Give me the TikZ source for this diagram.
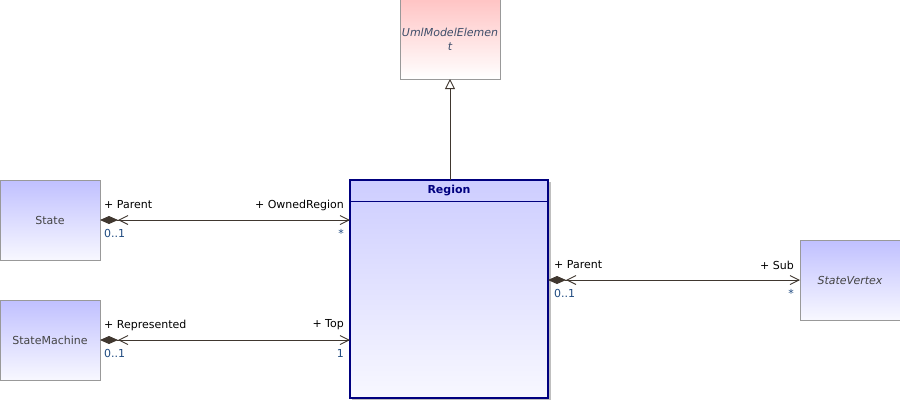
\documentclass[tikz,border=0pt]{standalone}
\usepackage{fontspec}
\setmainfont{DejaVu Sans}
\usetikzlibrary{arrows.meta}
\definecolor{linec}{HTML}{40372F}
\definecolor{bordg}{HTML}{999999}
\definecolor{clsTop}{HTML}{C0C0FF}
\definecolor{clsBot}{HTML}{F8F8FF}
\definecolor{pinkTop}{HTML}{FFC4C4}
\definecolor{regTop}{HTML}{CDCDFF}
\definecolor{navy}{HTML}{00007F}
\definecolor{multc}{HTML}{1F4A80}
\definecolor{namec}{HTML}{444444}
\definecolor{abstc}{HTML}{3E4E6A}
\tikzset{
  x=1pt, y=-1pt,
  cls/.style={draw=bordg, line width=0.9pt, top color=clsTop, bottom color=clsBot,
    minimum width=100pt, minimum height=80pt, inner sep=0pt, outer sep=0pt,
    font=\fontsize{11}{13.5}\selectfont, text=namec},
  role/.style={font=\fontsize{11}{13}\selectfont, text=black, inner sep=0pt},
  mult/.style={font=\fontsize{11}{13}\selectfont, text=multc, inner sep=0pt},
  assoc/.style={draw=linec, line width=0.9pt,
    {Diamond[length=18pt,width=8pt,fill=linec]Straight Barb[length=9pt,width=9pt,line width=0.9pt]}-{Straight Barb[length=9pt,width=9pt,line width=0.9pt]}},
}
\begin{document}
\begin{tikzpicture}
\useasboundingbox (0,0) rectangle (900,400);
% classes
\node[cls, top color=pinkTop, bottom color=white, text=abstc, align=center,
  font=\fontsize{11}{14}\selectfont\itshape] (uml) at (450,39) {UmlModelElemen\\t};
\node[cls] (state) at (50,220) {State};
\node[cls] (sm) at (50,340) {StateMachine};
\node[cls, font=\fontsize{11}{13.5}\selectfont\itshape] (sv) at (850,280) {StateVertex};
% Region
\fill[black!25] (352,182) rectangle (551,400);
\node[draw=navy, line width=1.4pt, top color=regTop, bottom color=clsBot,
  minimum width=198pt, minimum height=218pt, inner sep=0pt, outer sep=0pt] (region) at (449,289) {};
\coordinate (hl) at (350,201);
\coordinate (hr) at (548,201);
\draw[navy, line width=1pt] (hl) -- (hr);
\node[font=\fontsize{11}{13}\selectfont\bfseries, text=navy] (regt) at (449,190.5) {Region};
% generalization
\draw[linec, line width=0.9pt, -{Triangle[open,length=10pt,width=10pt,fill=white]}] (uml.south |- region.north) -- (uml.south);
% associations
\draw[assoc] (state.east) -- (state.east -| region.west);
\draw[assoc] (sm.east) -- (sm.east -| region.west);
\draw[assoc] (sv.west -| region.east) -- (sv.west);
% labels
\node[role, anchor=west] (l1) at (104,205) {+ Parent};
\node[mult, anchor=west] (m1) at (104,233) {0..1};
\node[role, anchor=east] (l2) at (344,205) {+ OwnedRegion};
\node[mult, anchor=east] (m2) at (344,233) {*};
\node[role, anchor=west] (l3) at (104,325) {+ Represented};
\node[mult, anchor=west] (m3) at (104,353) {0..1};
\node[role, anchor=east] (l4) at (344,325) {+ Top};
\node[mult, anchor=east] (m4) at (344,353) {1};
\node[role, anchor=west] (l5) at (554,265) {+ Parent};
\node[mult, anchor=west] (m5) at (554,293) {0..1};
\node[role, anchor=east] (l6) at (794,265) {+ Sub};
\node[mult, anchor=east] (m6) at (794,293) {*};
\end{tikzpicture}
\end{document}
